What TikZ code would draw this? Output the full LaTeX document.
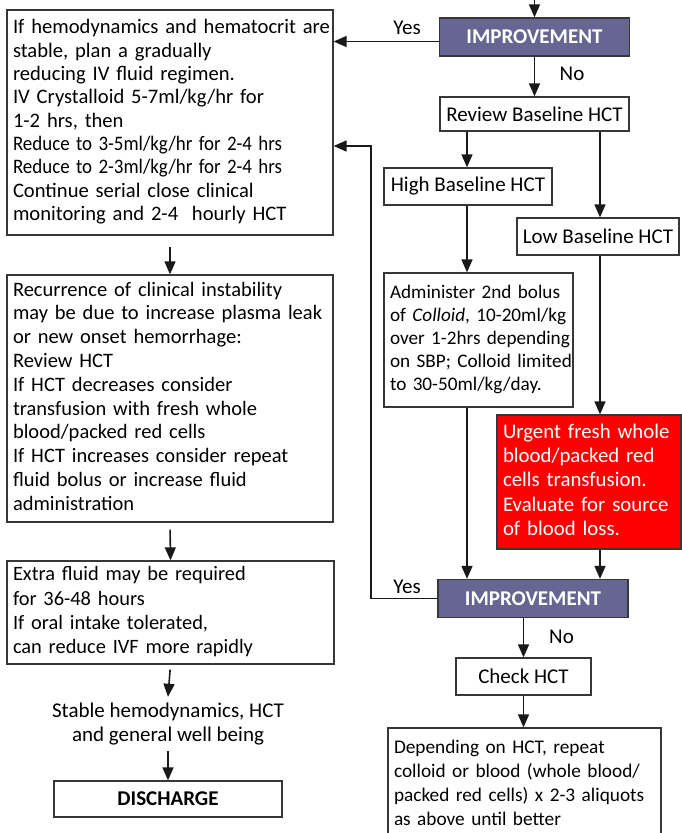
\documentclass[tikz,border=0pt]{standalone}
\usepackage{fontspec}
\usepackage{graphicx}
\setmainfont{Carlito}
\usetikzlibrary{arrows.meta,calc}
\definecolor{impfill}{RGB}{103,101,145}
\definecolor{edge}{RGB}{55,55,55}
\definecolor{urgent}{RGB}{255,0,0}
\newcommand{\tlines}[2][0pt]{\noindent\begin{tabular}{@{}l@{}}\rule{0pt}{\dimexpr0.7\baselineskip+#1\relax}#2\end{tabular}}
\newcommand{\cond}[1]{\scalebox{0.92}[1]{#1}}
\begin{document}
\begin{tikzpicture}[x=1pt,y=-1pt,
  font=\fontsize{21}{23.5}\selectfont,
  box/.style={draw=edge, line width=1.3pt, fill=white, rectangle, inner xsep=6pt, inner ysep=0pt, align=left},
  cbox/.style={draw=edge, line width=1.3pt, fill=white, rectangle, inner sep=0pt, align=center},
  imp/.style={draw=edge, line width=1.3pt, fill=impfill, text=white, font=\fontsize{21}{23.5}\selectfont\bfseries, inner sep=0pt, minimum width=190pt, minimum height=38pt},
  arr/.style={line width=1.6pt, draw=black!90, -{Triangle[length=13pt,width=11pt]}},
  lab/.style={inner sep=0pt}
]
\useasboundingbox (0,0) rectangle (681,833);

% ---------- left column ----------
\node[box, minimum height=225pt, text width=314pt, font=\fontsize{20.6}{23.3}\selectfont] (b1) at (170,122.5) {\tlines[6pt]{%
If hemodynamics and hematocrit are\\
stable, plan a gradually\\
reducing IV fluid regimen.\\
IV Crystalloid 5-7ml/kg/hr for\\
1-2 hrs, then\\
\cond{Reduce to 3-5ml/kg/hr for 2-4 hrs}\\
\cond{Reduce to 2-3ml/kg/hr for 2-4 hrs}\\
Continue serial close clinical\\
monitoring and 2-4\ \ hourly HCT}};

\node[box, minimum height=247pt, text width=314pt, font=\fontsize{20.5}{23.8}\selectfont] (b2) at (170,398.5) {\tlines[6pt]{%
Recurrence of clinical instability\\
may be due to increase plasma leak\\
or new onset hemorrhage:\\
Review HCT\\
If HCT decreases consider\\
transfusion with fresh whole\\
blood/packed red cells\\
If HCT increases consider repeat\\
fluid bolus or increase fluid\\
administration}};

\node[box, minimum height=103pt, text width=315pt, font=\fontsize{20.4}{24.3}\selectfont] (b3) at (170.5,612.5) {\tlines[5pt]{%
Extra fluid may be required\\
for 36-48 hours\\
If oral intake tolerated,\\
can reduce IVF more rapidly}};

\node[inner sep=0pt, align=center, minimum height=54pt] (stable) at (168,724) {Stable hemodynamics, HCT\\and general well being};

\node[cbox, minimum width=228pt, minimum height=36pt, font=\fontsize{21}{23.5}\selectfont\bfseries] (dis) at (168,799) {DISCHARGE};

% ---------- right column ----------
\coordinate (start) at (534.5,-2);
\node[imp] (imp1) at (534.5,37) {IMPROVEMENT};
\node[cbox, minimum width=189pt, minimum height=34pt] (review) at (534.5,114) {Review Baseline HCT};
\node[cbox, minimum width=168pt, minimum height=37pt] (high) at (468,186.5) {High Baseline HCT};
\node[cbox, minimum width=162pt, minimum height=37pt] (low) at (598,236.5) {Low Baseline HCT};

\node[box, minimum height=134pt, text width=177pt, font=\fontsize{19.2}{23.1}\selectfont] (colloid) at (478.5,340) {\tlines{%
Administer 2nd bolus\\
of \textit{Colloid}, 10-20ml/kg\\
over 1-2hrs depending\\
on SBP; Colloid limited\\
to 30-50ml/kg/day.}};

\node[box, fill=urgent, text=white, minimum height=134pt, text width=172pt, font=\fontsize{20.8}{24.2}\selectfont] (red) at (589,482) {\tlines[6pt]{%
Urgent fresh whole\\
blood/packed red\\
cells transfusion.\\
Evaluate for source\\
of blood loss.}};

\node[imp] (imp2) at (533,598.5) {IMPROVEMENT};
\node[cbox, minimum width=135pt, minimum height=37pt] (check) at (523.5,676.5) {Check HCT};

\node[box, minimum height=113pt, text width=261pt, font=\fontsize{19.3}{24.2}\selectfont] (final) at (524.5,784.5) {\tlines{%
Depending on HCT, repeat\\
colloid or blood (whole blood/\\
packed red cells) x 2-3 aliquots\\
as above until better}};

% labels
\node[lab] (yes1) at (407,28) {Yes};
\node[lab] (no1) at (572,73.5) {No};
\node[lab] (yes2) at (407,587) {Yes};
\node[lab] (no2) at (561.5,636.5) {No};

% helper coordinates
\coordinate (rx) at (600,0);
\coordinate (lx) at (467,0);
\coordinate (yx) at (371,146);

% ---------- connectors ----------
\draw[arr] (start) -- (imp1.north);
\draw[arr] ([yshift=-4.5pt]imp1.west) -- ([yshift=-4.5pt]imp1.west -| b1.east);
\draw[arr] (imp1.south) -- (review.north);
\draw[arr] (review.south -| lx) -- (high.north -| lx);
\draw[arr] (review.south -| rx) -- (low.north -| rx);
\draw[arr] (high.south -| lx) -- (colloid.north -| lx);
\draw[arr] (low.south -| rx) -- (red.north -| rx);
\draw[arr] (colloid.south -| lx) -- (imp2.north -| lx);
\draw[arr] (red.south -| rx) -- (imp2.north -| rx);
\draw[arr] (imp2.west) -| (yx) -- (yx -| b1.east);
\draw[arr] (imp2.south -| check.north) -- (check.north);
\draw[arr] (check.south) -- (check.south |- final.north);

\draw[arr, shorten <=11pt] (b1.south) -- (b2.north);
\draw[arr, shorten <=7pt] (b2.south) -- (b3.north);
\draw[arr, shorten <=5pt] (b3.south) -- (stable.north);
\draw[arr] (stable.south) -- (dis.north);
\end{tikzpicture}
\end{document}
